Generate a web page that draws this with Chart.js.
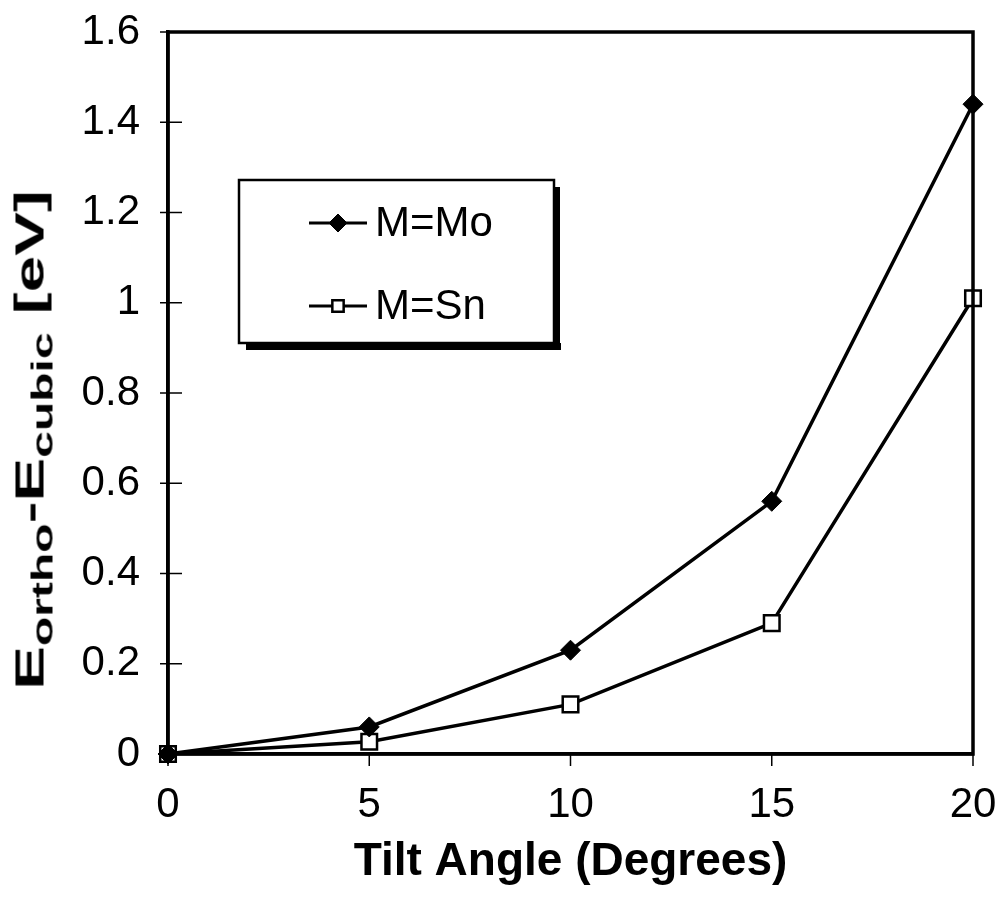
<!DOCTYPE html>
<html>
<head>
<meta charset="utf-8">
<script src="https://cdn.jsdelivr.net/npm/chart.js@4.4.0/dist/chart.umd.min.js"></script>
<style>
  html, body { margin: 0; padding: 0; background: #fff; }
  #wrap { position: relative; width: 1000px; height: 915px; }
  #chart { position: absolute; left: 0; top: 0; }
  #ytitle {
    position: absolute; left: 33px; top: 440px;
    transform: translate(-50%, -50%) rotate(-90deg) scaleX(1.6);
    white-space: nowrap;
    font: bold 41px "Liberation Sans", Arial, sans-serif;
    color: #000;
  }
  #ytitle sub { font-size: 30px; vertical-align: -9px; }
</style>
</head>
<body>
<div id="wrap">
  <canvas id="chart" width="1000" height="915"></canvas>
  <div id="ytitle">E<sub>ortho</sub>-E<sub>cubic</sub> [eV]</div>
</div>
<script>
const tiltAngles = [0, 5, 10, 15, 20]
const moValues = [0, 0.06, 0.23, 0.56, 1.44]
const snValues = [0, 0.027, 0.11, 0.29, 1.01]
const seriesNames = ["M=Mo", "M=Sn"]

const FONT = '"Liberation Sans", Arial, sans-serif'

function toPoints(values) {
  return tiltAngles.map(function (x, i) {
    return { x: x, y: values[i] }
  })
}

// frame round the plot area and the tick marks (y ticks cross the axis)
const framePlugin = {
  id: "frame",
  afterDatasetsDraw: function (chart) {
    const a = chart.chartArea
    const ctx = chart.ctx
    const x = chart.scales.x
    const y = chart.scales.y
    ctx.save()
    ctx.strokeStyle = "#000"
    ctx.lineWidth = 3.5
    ctx.strokeRect(a.left, a.top, a.right - a.left, a.bottom - a.top)
    ctx.lineWidth = 1.5
    y.ticks.forEach(function (t) {
      const py = y.getPixelForValue(t.value)
      ctx.beginPath()
      ctx.moveTo(a.left - 8, py)
      ctx.lineTo(a.left + 14, py)
      ctx.stroke()
    })
    x.ticks.forEach(function (t) {
      const px = x.getPixelForValue(t.value)
      ctx.beginPath()
      ctx.moveTo(px, a.bottom)
      ctx.lineTo(px, a.bottom + 12)
      ctx.stroke()
    })
    ctx.restore()
  },
}

// boxed legend with a drop shadow
const legendPlugin = {
  id: "boxLegend",
  afterDraw: function (chart) {
    const ctx = chart.ctx
    const bx = 239, by = 180, bw = 315, bh = 163
    ctx.save()
    ctx.fillStyle = "#000"
    ctx.fillRect(bx + 7, by + bh, bw, 7)
    ctx.fillRect(bx + bw, by + 7, 6, bh)
    ctx.fillStyle = "#fff"
    ctx.fillRect(bx, by, bw, bh)
    ctx.strokeStyle = "#000"
    ctx.lineWidth = 2.5
    ctx.strokeRect(bx, by, bw, bh)
    const rows = [223, 306]
    chart.data.datasets.forEach(function (ds, i) {
      const ry = rows[i]
      ctx.strokeStyle = "#000"
      ctx.lineWidth = 3
      ctx.beginPath()
      ctx.moveTo(309, ry)
      ctx.lineTo(367, ry)
      ctx.stroke()
      ctx.fillStyle = ds.pointBackgroundColor
      ctx.strokeStyle = "#000"
      ctx.lineWidth = ds.pointBorderWidth
      Chart.helpers.drawPoint(ctx, { pointStyle: ds.pointStyle, radius: i === 0 ? 9 : 8, borderWidth: ds.pointBorderWidth }, 338, ry)
      ctx.fillStyle = "#000"
      ctx.font = "42px " + FONT
      ctx.textBaseline = "middle"
      ctx.fillText(ds.label, 375, ry + 1)
    })
    ctx.restore()
  },
}

const ctx = document.getElementById("chart").getContext("2d")
const myChart = new Chart(ctx, {
  type: "line",
  data: {
    datasets: [
      {
        label: seriesNames[0],
        data: toPoints(moValues),
        borderColor: "#000",
        borderWidth: 3.5,
        pointStyle: "rectRot",
        pointRadius: 10,
        pointBackgroundColor: "#000",
        pointBorderColor: "#000",
        pointBorderWidth: 1,
        tension: 0,
        clip: false,
      },
      {
        label: seriesNames[1],
        data: toPoints(snValues),
        borderColor: "#000",
        borderWidth: 3.5,
        pointStyle: "rect",
        pointRadius: 11,
        pointBackgroundColor: "#fff",
        pointBorderColor: "#000",
        pointBorderWidth: 2.5,
        tension: 0,
        clip: false,
      },
    ],
  },
  options: {
    responsive: false,
    animation: false,
    layout: {
      padding: { left: 0, right: 27, top: 32, bottom: 0 },
    },
    plugins: {
      legend: { display: false },
      tooltip: { enabled: false },
    },
    scales: {
      x: {
        type: "linear",
        min: 0,
        max: 20,
        ticks: {
          stepSize: 5,
          color: "#000",
          padding: 2,
          font: { family: FONT, size: 42 },
        },
        grid: {
          drawOnChartArea: false,
          color: "transparent",
          tickLength: 24,
        },
        border: { color: "#000", width: 3.5 },
        title: {
          display: true,
          text: "Tilt Angle (Degrees)",
          color: "#000",
          font: { family: FONT, size: 46, weight: "bold" },
          padding: { top: 0, bottom: 25 },
        },
        afterFit: function (scale) {
          scale.height = 161
        },
      },
      y: {
        min: 0,
        max: 1.6,
        ticks: {
          stepSize: 0.2,
          color: "#000",
          padding: 2,
          font: { family: FONT, size: 42 },
          callback: function (value) {
            return String(Number(value.toFixed(1)))
          },
        },
        grid: {
          drawOnChartArea: false,
          color: "transparent",
          tickLength: 26,
        },
        border: { color: "#000", width: 3.5 },
        afterFit: function (scale) {
          scale.width = 168
        },
      },
    },
  },
  plugins: [framePlugin, legendPlugin],
})
</script>
</body>
</html>
